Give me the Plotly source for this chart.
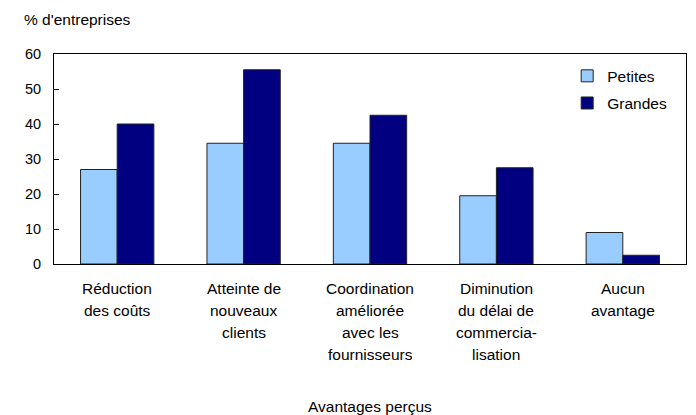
import plotly.graph_objects as go

# Perceived benefits, share of firms by size
categories = [
    "Réduction<br>des coûts",
    "Atteinte de<br>nouveaux<br>clients",
    "Coordination<br>améliorée<br>avec les<br>fournisseurs",
    "Diminution<br>du délai de<br>commercia-<br>lisation",
    "Aucun<br>avantage",
]
petites = [27, 34.5, 34.5, 19.5, 9]
grandes = [40, 55.5, 42.5, 27.5, 2.5]
y_ticks = [0, 10, 20, 30, 40, 50, 60]

FONT = "Liberation Sans, Arial, sans-serif"
TXT = 15.5

fig = go.Figure()
fig.add_trace(go.Bar(
    x=list(range(len(categories))), y=petites, name="Petites", legendgroup="p",
    marker=dict(color="#99CCFF", line=dict(color="#222222", width=1)),
))
fig.add_trace(go.Bar(
    x=list(range(len(categories))), y=grandes, name="Grandes", legendgroup="g",
    marker=dict(color="#000080", line=dict(color="#222222", width=1)),
))

# Multi-line category labels under each group
annotations = []
for i, label in enumerate(categories):
    for j, line in enumerate(label.split("<br>")):
        annotations.append(dict(
            x=i, y=0, xref="x", yref="y", text=line, showarrow=False,
            xanchor="center", yanchor="middle", yshift=-24 - 22 * j,
            font=dict(family=FONT, size=TXT, color="black"),
        ))

# Axis titles (plot area spans x 54..686, y 54..264 px)
annotations.append(dict(
    x=0.5, y=(264 - 406) / 210, xref="paper", yref="paper",
    text="Avantages perçus", showarrow=False,
    xanchor="center", yanchor="middle",
    font=dict(family=FONT, size=TXT, color="black"),
))
annotations.append(dict(
    x=(22 - 54) / 632, y=(264 - 20) / 210, xref="paper", yref="paper",
    text="% d'entreprises", showarrow=False,
    xanchor="left", yanchor="middle",
    font=dict(family=FONT, size=TXT, color="black"),
))

fig.update_layout(
    width=696, height=415,
    margin=dict(l=54, r=10, t=54, b=151),
    paper_bgcolor="white", plot_bgcolor="white",
    barmode="group", bargap=0.42, bargroupgap=0,
    font=dict(family=FONT, size=TXT, color="black"),
    showlegend=True,
    legend=dict(
        x=0.812, y=0.975, xanchor="left", yanchor="top",
        bgcolor="rgba(0,0,0,0)", tracegroupgap=4,
        font=dict(family=FONT, size=TXT, color="black"),
    ),
    annotations=annotations,
)
fig.update_xaxes(
    range=[-0.5, len(categories) - 0.5], showticklabels=False, ticks="",
    showline=True, mirror=True, linecolor="black", linewidth=1,
    showgrid=False, zeroline=False, fixedrange=True,
)
fig.update_yaxes(
    range=[0, 60], tickvals=y_ticks, ticks="inside", ticklen=5,
    tickcolor="black", ticklabelstandoff=9,
    showline=True, mirror=True, linecolor="black", linewidth=1,
    showgrid=False, zeroline=False,
    tickfont=dict(family=FONT, size=14.5, color="black"),
)

fig.write_html("out.html")
